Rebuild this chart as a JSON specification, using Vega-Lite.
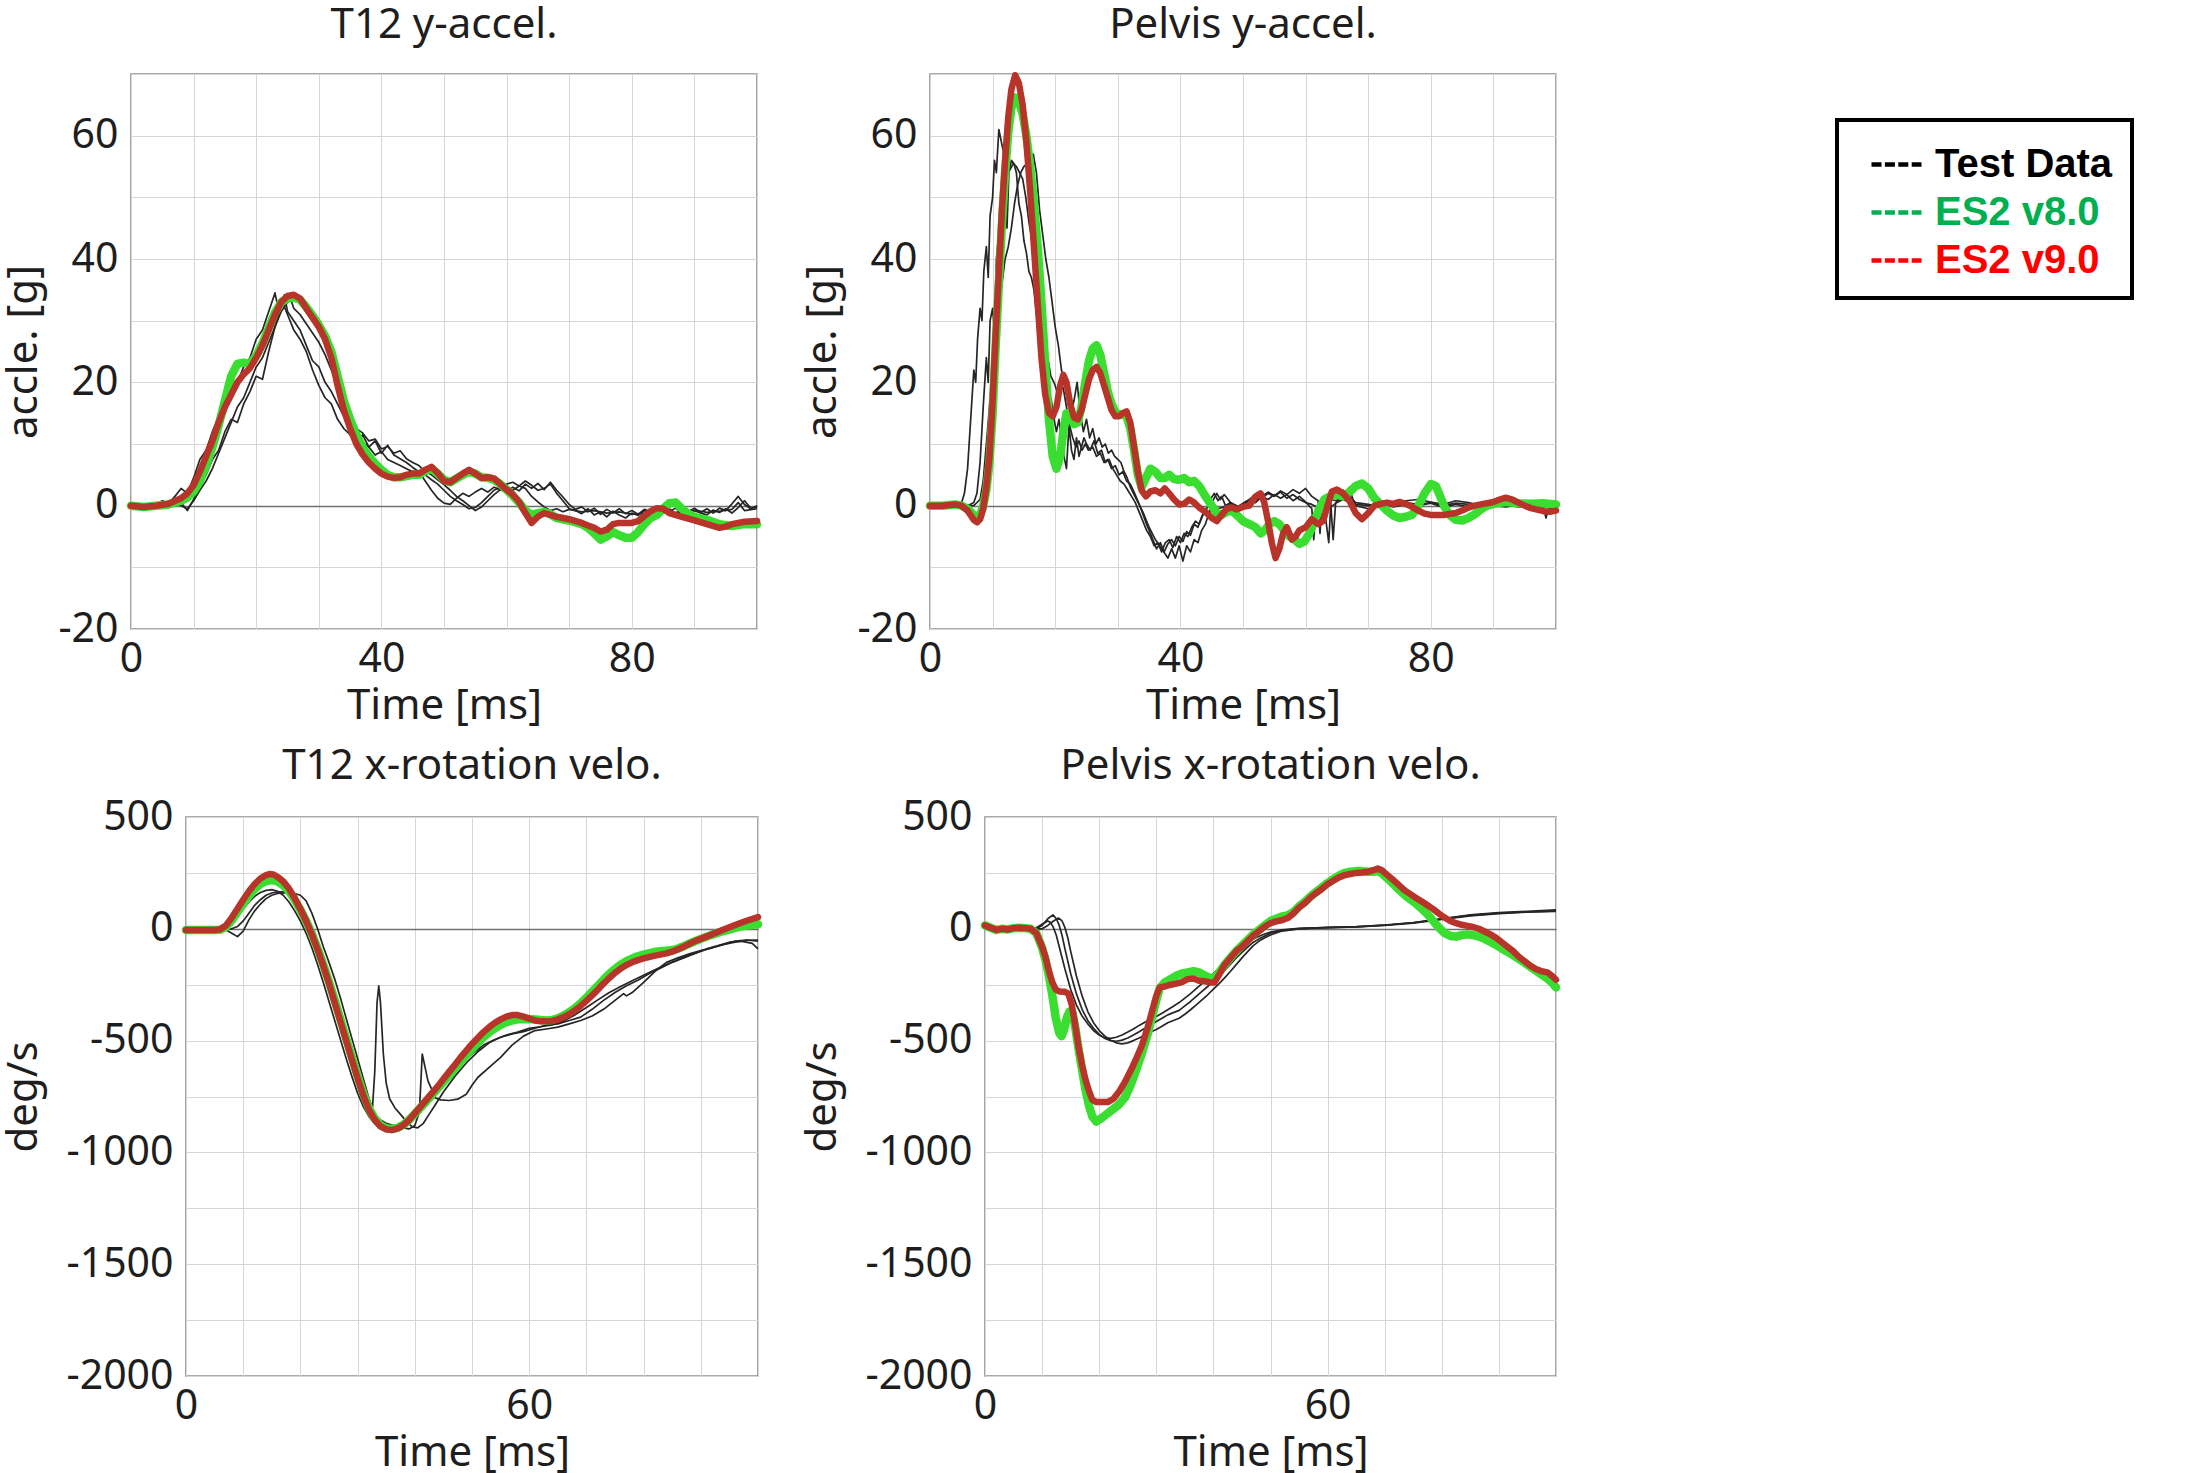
{
"$schema":"https://vega.github.io/schema/vega-lite/v6.json",
"background":"white",
"padding":{"left":1,"top":3,"right":0,"bottom":0},
"config":{
 "font":"Noto Sans",
 "view":{"stroke":"#8f8f8f","strokeWidth":1.6},
 "axis":{"labelFontSize":41,"titleFontSize":42,"labelColor":"#1e1e1e","titleColor":"#1e1e1e","titleFontWeight":"normal","ticks":false,"domain":false,"grid":true,"gridWidth":1,"labelFont":"Noto Sans","titleFont":"Noto Sans","labelOverlap":false,"labelFlush":false,"labelBound":false},
 "axisX":{"labelPadding":10,"titlePadding":6},
 "axisY":{"labelPadding":13},
 "title":{"fontSize":42,"fontWeight":"normal","color":"#1e1e1e","font":"Noto Sans","anchor":"middle","frame":"group"}
},
"datasets":{
"d1":[
{"s":"R","t":0,"v":0},{"s":"R","t":2,"v":-0.2},{"s":"R","t":4,"v":0},{"s":"R","t":6,"v":0.3},{"s":"R","t":8,"v":1.2},{"s":"R","t":9,"v":2},{"s":"R","t":10,"v":3.3},{"s":"R","t":11,"v":5.5},{"s":"R","t":12,"v":8},{"s":"R","t":13,"v":10.5},{"s":"R","t":14,"v":13.5},{"s":"R","t":15,"v":16},{"s":"R","t":16,"v":18},{"s":"R","t":17,"v":20},{"s":"R","t":18,"v":21.3},{"s":"R","t":19,"v":22.3},{"s":"R","t":20,"v":24},{"s":"R","t":21,"v":26},{"s":"R","t":22,"v":28.5},{"s":"R","t":23,"v":31},{"s":"R","t":24,"v":33},{"s":"R","t":25,"v":34},{"s":"R","t":26,"v":34.2},{"s":"R","t":27,"v":33.6},{"s":"R","t":28,"v":32},{"s":"R","t":29,"v":30.5},{"s":"R","t":30,"v":29},{"s":"R","t":31,"v":27},{"s":"R","t":32,"v":24},{"s":"R","t":33,"v":19.5},{"s":"R","t":34,"v":15.5},{"s":"R","t":35,"v":12.5},{"s":"R","t":36,"v":10},{"s":"R","t":37,"v":8.3},{"s":"R","t":38,"v":7},{"s":"R","t":39,"v":6},{"s":"R","t":40,"v":5.2},{"s":"R","t":41,"v":4.7},{"s":"R","t":42,"v":4.5},{"s":"R","t":43,"v":4.6},{"s":"R","t":44,"v":5},{"s":"R","t":45,"v":5.2},{"s":"R","t":46,"v":5.2},{"s":"R","t":47,"v":5.8},{"s":"R","t":48,"v":6.3},{"s":"R","t":49,"v":5.3},{"s":"R","t":50,"v":4},{"s":"R","t":51,"v":3.8},{"s":"R","t":52,"v":4.5},{"s":"R","t":53,"v":5.2},{"s":"R","t":54,"v":5.8},{"s":"R","t":55,"v":5.2},{"s":"R","t":56,"v":4.5},{"s":"R","t":57,"v":4.6},{"s":"R","t":58,"v":4.4},{"s":"R","t":59,"v":3.5},{"s":"R","t":60,"v":2.6},{"s":"R","t":61,"v":1.8},{"s":"R","t":62,"v":0.6},{"s":"R","t":63,"v":-1.2},{"s":"R","t":64,"v":-2.8},{"s":"R","t":65,"v":-1.8},{"s":"R","t":66,"v":-1.2},{"s":"R","t":67,"v":-1.5},{"s":"R","t":68,"v":-1.8},{"s":"R","t":70,"v":-2.2},{"s":"R","t":72,"v":-2.8},{"s":"R","t":73,"v":-3.2},{"s":"R","t":74,"v":-3.6},{"s":"R","t":75,"v":-4.2},{"s":"R","t":76,"v":-3.9},{"s":"R","t":77,"v":-3},{"s":"R","t":78,"v":-2.8},{"s":"R","t":80,"v":-2.8},{"s":"R","t":81,"v":-2.5},{"s":"R","t":82,"v":-1.7},{"s":"R","t":83,"v":-0.9},{"s":"R","t":84,"v":-0.4},{"s":"R","t":85,"v":-0.5},{"s":"R","t":86,"v":-1.2},{"s":"R","t":88,"v":-1.8},{"s":"R","t":90,"v":-2.4},{"s":"R","t":92,"v":-3},{"s":"R","t":94,"v":-3.6},{"s":"R","t":95,"v":-3.4},{"s":"R","t":96,"v":-3},{"s":"R","t":98,"v":-2.6},{"s":"R","t":100,"v":-2.5},
{"s":"G","t":0,"v":0},{"s":"G","t":2,"v":-0.2},{"s":"G","t":4,"v":0},{"s":"G","t":6,"v":0.2},{"s":"G","t":8,"v":0.8},{"s":"G","t":9,"v":1.3},{"s":"G","t":10,"v":2.3},{"s":"G","t":11,"v":4},{"s":"G","t":12,"v":6.5},{"s":"G","t":13,"v":9.5},{"s":"G","t":14,"v":13},{"s":"G","t":15,"v":17},{"s":"G","t":16,"v":21},{"s":"G","t":17,"v":23},{"s":"G","t":18,"v":23.2},{"s":"G","t":19,"v":23},{"s":"G","t":20,"v":24.3},{"s":"G","t":21,"v":26.3},{"s":"G","t":22,"v":28.8},{"s":"G","t":23,"v":31.3},{"s":"G","t":24,"v":33},{"s":"G","t":25,"v":33.6},{"s":"G","t":26,"v":33.8},{"s":"G","t":27,"v":33.4},{"s":"G","t":28,"v":32.2},{"s":"G","t":29,"v":30.8},{"s":"G","t":30,"v":29.3},{"s":"G","t":31,"v":27.5},{"s":"G","t":32,"v":25},{"s":"G","t":33,"v":21},{"s":"G","t":34,"v":17},{"s":"G","t":35,"v":14},{"s":"G","t":36,"v":11.5},{"s":"G","t":37,"v":9.5},{"s":"G","t":38,"v":8},{"s":"G","t":39,"v":6.8},{"s":"G","t":40,"v":5.8},{"s":"G","t":41,"v":5},{"s":"G","t":42,"v":4.6},{"s":"G","t":43,"v":4.6},{"s":"G","t":44,"v":4.8},{"s":"G","t":45,"v":5},{"s":"G","t":46,"v":5},{"s":"G","t":47,"v":5.6},{"s":"G","t":48,"v":6},{"s":"G","t":49,"v":5.2},{"s":"G","t":50,"v":4.2},{"s":"G","t":51,"v":3.8},{"s":"G","t":52,"v":4.4},{"s":"G","t":53,"v":5},{"s":"G","t":54,"v":5.5},{"s":"G","t":55,"v":5.2},{"s":"G","t":56,"v":4.6},{"s":"G","t":57,"v":4.5},{"s":"G","t":58,"v":4.2},{"s":"G","t":59,"v":3.5},{"s":"G","t":60,"v":2.6},{"s":"G","t":61,"v":1.6},{"s":"G","t":62,"v":0.5},{"s":"G","t":63,"v":-0.8},{"s":"G","t":64,"v":-1.5},{"s":"G","t":65,"v":-1.2},{"s":"G","t":66,"v":-1},{"s":"G","t":67,"v":-1.4},{"s":"G","t":68,"v":-2},{"s":"G","t":70,"v":-2.4},{"s":"G","t":72,"v":-3},{"s":"G","t":73,"v":-3.6},{"s":"G","t":74,"v":-4.5},{"s":"G","t":75,"v":-5.5},{"s":"G","t":76,"v":-5},{"s":"G","t":77,"v":-4.3},{"s":"G","t":78,"v":-4.8},{"s":"G","t":79,"v":-5.2},{"s":"G","t":80,"v":-5.2},{"s":"G","t":81,"v":-4.3},{"s":"G","t":82,"v":-3},{"s":"G","t":83,"v":-2},{"s":"G","t":84,"v":-1.5},{"s":"G","t":85,"v":-0.5},{"s":"G","t":86,"v":0.4},{"s":"G","t":87,"v":0.5},{"s":"G","t":88,"v":-0.5},{"s":"G","t":89,"v":-1.3},{"s":"G","t":90,"v":-1.8},{"s":"G","t":92,"v":-2.3},{"s":"G","t":94,"v":-3},{"s":"G","t":96,"v":-3.3},{"s":"G","t":98,"v":-3},{"s":"G","t":100,"v":-3},
{"s":"a","t":0,"v":0},{"s":"a","t":2,"v":0},{"s":"a","t":4,"v":0.2},{"s":"a","t":5,"v":0.8},{"s":"a","t":6,"v":0.3},{"s":"a","t":7,"v":1.5},{"s":"a","t":8,"v":2.8},{"s":"a","t":9,"v":2},{"s":"a","t":10,"v":4.5},{"s":"a","t":11,"v":7.5},{"s":"a","t":12,"v":9},{"s":"a","t":13,"v":12},{"s":"a","t":14,"v":14.5},{"s":"a","t":15,"v":16.5},{"s":"a","t":16,"v":17.5},{"s":"a","t":17,"v":20},{"s":"a","t":18,"v":22.5},{"s":"a","t":19,"v":24},{"s":"a","t":20,"v":27},{"s":"a","t":21,"v":28.5},{"s":"a","t":22,"v":31.5},{"s":"a","t":23,"v":34.5},{"s":"a","t":23.5,"v":32},{"s":"a","t":24,"v":33.5},{"s":"a","t":25,"v":31},{"s":"a","t":26,"v":28.5},{"s":"a","t":27,"v":27},{"s":"a","t":28,"v":25},{"s":"a","t":29,"v":22},{"s":"a","t":30,"v":19.5},{"s":"a","t":31,"v":17.5},{"s":"a","t":32,"v":16.5},{"s":"a","t":33,"v":14},{"s":"a","t":34,"v":12.5},{"s":"a","t":35,"v":11.5},{"s":"a","t":36,"v":10},{"s":"a","t":37,"v":11.5},{"s":"a","t":38,"v":9.5},{"s":"a","t":39,"v":10.5},{"s":"a","t":40,"v":8.5},{"s":"a","t":41,"v":9.8},{"s":"a","t":42,"v":8.2},{"s":"a","t":43,"v":7.6},{"s":"a","t":44,"v":7},{"s":"a","t":45,"v":6.2},{"s":"a","t":46,"v":5.5},{"s":"a","t":47,"v":4},{"s":"a","t":48,"v":2.5},{"s":"a","t":49,"v":1.2},{"s":"a","t":50,"v":0.4},{"s":"a","t":51,"v":0.2},{"s":"a","t":52,"v":1.2},{"s":"a","t":53,"v":2},{"s":"a","t":54,"v":1.5},{"s":"a","t":55,"v":2.2},{"s":"a","t":56,"v":2.8},{"s":"a","t":57,"v":2.2},{"s":"a","t":58,"v":3},{"s":"a","t":59,"v":2.6},{"s":"a","t":60,"v":3.2},{"s":"a","t":61,"v":2.5},{"s":"a","t":62,"v":3.2},{"s":"a","t":63,"v":2.8},{"s":"a","t":64,"v":1.5},{"s":"a","t":65,"v":0.6},{"s":"a","t":66,"v":-0.2},{"s":"a","t":67,"v":-0.8},{"s":"a","t":68,"v":-0.5},{"s":"a","t":69,"v":-1},{"s":"a","t":70,"v":-0.6},{"s":"a","t":72,"v":-1},{"s":"a","t":74,"v":-0.8},{"s":"a","t":76,"v":-1.2},{"s":"a","t":78,"v":-1},{"s":"a","t":80,"v":-1.4},{"s":"a","t":82,"v":-1.2},{"s":"a","t":84,"v":-0.8},{"s":"a","t":86,"v":-1.2},{"s":"a","t":88,"v":-1},{"s":"a","t":90,"v":-0.7},{"s":"a","t":92,"v":-1.1},{"s":"a","t":94,"v":-0.9},{"s":"a","t":96,"v":-0.6},{"s":"a","t":97,"v":0.5},{"s":"a","t":98,"v":-0.8},{"s":"a","t":100,"v":-0.5},
{"s":"b","t":0,"v":0},{"s":"b","t":4,"v":0},{"s":"b","t":6,"v":0.3},{"s":"b","t":8,"v":0.5},{"s":"b","t":9,"v":-0.8},{"s":"b","t":10,"v":1},{"s":"b","t":11,"v":3},{"s":"b","t":12,"v":5},{"s":"b","t":13,"v":7.5},{"s":"b","t":14,"v":9},{"s":"b","t":15,"v":12},{"s":"b","t":16,"v":14},{"s":"b","t":17,"v":13.5},{"s":"b","t":18,"v":16.5},{"s":"b","t":19,"v":18.5},{"s":"b","t":20,"v":21},{"s":"b","t":21,"v":20.5},{"s":"b","t":22,"v":25},{"s":"b","t":23,"v":29},{"s":"b","t":24,"v":32.5},{"s":"b","t":24.5,"v":34.2},{"s":"b","t":25,"v":31.5},{"s":"b","t":26,"v":30},{"s":"b","t":27,"v":28.5},{"s":"b","t":28,"v":26},{"s":"b","t":29,"v":23.5},{"s":"b","t":30,"v":22.5},{"s":"b","t":31,"v":20},{"s":"b","t":32,"v":18.5},{"s":"b","t":33,"v":16.5},{"s":"b","t":34,"v":14.5},{"s":"b","t":35,"v":12.8},{"s":"b","t":36,"v":11},{"s":"b","t":37,"v":10.3},{"s":"b","t":38,"v":9.5},{"s":"b","t":39,"v":8.2},{"s":"b","t":40,"v":8.8},{"s":"b","t":41,"v":7.5},{"s":"b","t":42,"v":7},{"s":"b","t":43,"v":6.5},{"s":"b","t":44,"v":6},{"s":"b","t":45,"v":5.5},{"s":"b","t":46,"v":5.2},{"s":"b","t":47,"v":5},{"s":"b","t":48,"v":4.2},{"s":"b","t":49,"v":3.5},{"s":"b","t":50,"v":2.5},{"s":"b","t":51,"v":1.5},{"s":"b","t":52,"v":0.8},{"s":"b","t":53,"v":0.2},{"s":"b","t":54,"v":-0.5},{"s":"b","t":55,"v":-0.3},{"s":"b","t":56,"v":0.5},{"s":"b","t":57,"v":1.5},{"s":"b","t":58,"v":2.5},{"s":"b","t":59,"v":3},{"s":"b","t":60,"v":3.5},{"s":"b","t":61,"v":3.8},{"s":"b","t":62,"v":3.2},{"s":"b","t":63,"v":4},{"s":"b","t":64,"v":3.3},{"s":"b","t":65,"v":2.5},{"s":"b","t":66,"v":2.8},{"s":"b","t":67,"v":3.5},{"s":"b","t":68,"v":2},{"s":"b","t":69,"v":0.8},{"s":"b","t":70,"v":-0.5},{"s":"b","t":71,"v":-0.8},{"s":"b","t":72,"v":-1.3},{"s":"b","t":73,"v":-0.5},{"s":"b","t":74,"v":-1.5},{"s":"b","t":75,"v":-1},{"s":"b","t":76,"v":-1.8},{"s":"b","t":77,"v":-0.9},{"s":"b","t":78,"v":-1.5},{"s":"b","t":79,"v":-2},{"s":"b","t":80,"v":-1.2},{"s":"b","t":81,"v":-1.6},{"s":"b","t":82,"v":-0.8},{"s":"b","t":83,"v":-1.3},{"s":"b","t":84,"v":-1.8},{"s":"b","t":85,"v":-0.6},{"s":"b","t":86,"v":-1},{"s":"b","t":87,"v":-0.4},{"s":"b","t":88,"v":-1.2},{"s":"b","t":89,"v":-1.6},{"s":"b","t":90,"v":-0.8},{"s":"b","t":91,"v":-1.2},{"s":"b","t":92,"v":-1.5},{"s":"b","t":93,"v":-0.7},{"s":"b","t":94,"v":-1.1},{"s":"b","t":95,"v":-0.5},{"s":"b","t":96,"v":-1.2},{"s":"b","t":97,"v":-0.3},{"s":"b","t":98,"v":0.8},{"s":"b","t":99,"v":-0.4},{"s":"b","t":100,"v":-0.3},
{"s":"c","t":0,"v":0},{"s":"c","t":5,"v":0},{"s":"c","t":7,"v":0.3},{"s":"c","t":8,"v":0},{"s":"c","t":9,"v":-0.5},{"s":"c","t":10,"v":0.8},{"s":"c","t":11,"v":2.5},{"s":"c","t":12,"v":4},{"s":"c","t":13,"v":6},{"s":"c","t":14,"v":8.5},{"s":"c","t":15,"v":11},{"s":"c","t":16,"v":13.5},{"s":"c","t":17,"v":16},{"s":"c","t":18,"v":17.5},{"s":"c","t":19,"v":20},{"s":"c","t":20,"v":22.5},{"s":"c","t":21,"v":24},{"s":"c","t":22,"v":26.5},{"s":"c","t":23,"v":29},{"s":"c","t":24,"v":31.5},{"s":"c","t":25,"v":33},{"s":"c","t":25.5,"v":33.5},{"s":"c","t":26,"v":32},{"s":"c","t":27,"v":31},{"s":"c","t":28,"v":29.5},{"s":"c","t":29,"v":28},{"s":"c","t":30,"v":26.5},{"s":"c","t":31,"v":24.5},{"s":"c","t":32,"v":22},{"s":"c","t":33,"v":19.5},{"s":"c","t":34,"v":16.5},{"s":"c","t":35,"v":14.5},{"s":"c","t":36,"v":12.5},{"s":"c","t":37,"v":11.8},{"s":"c","t":38,"v":10.5},{"s":"c","t":39,"v":10.8},{"s":"c","t":40,"v":9.2},{"s":"c","t":41,"v":9.6},{"s":"c","t":42,"v":8.5},{"s":"c","t":43,"v":8.9},{"s":"c","t":44,"v":7.6},{"s":"c","t":45,"v":7},{"s":"c","t":46,"v":6.5},{"s":"c","t":47,"v":5.5},{"s":"c","t":48,"v":5},{"s":"c","t":49,"v":4.2},{"s":"c","t":50,"v":3.4},{"s":"c","t":51,"v":2.5},{"s":"c","t":52,"v":1.5},{"s":"c","t":53,"v":0.8},{"s":"c","t":54,"v":0},{"s":"c","t":55,"v":-0.8},{"s":"c","t":56,"v":-0.2},{"s":"c","t":57,"v":0.8},{"s":"c","t":58,"v":1.8},{"s":"c","t":59,"v":2.6},{"s":"c","t":60,"v":2.2},{"s":"c","t":61,"v":3},{"s":"c","t":62,"v":2.4},{"s":"c","t":63,"v":3.5},{"s":"c","t":64,"v":2.8},{"s":"c","t":65,"v":3.6},{"s":"c","t":66,"v":2.6},{"s":"c","t":67,"v":3.8},{"s":"c","t":68,"v":2.5},{"s":"c","t":69,"v":1.4},{"s":"c","t":70,"v":0.2},{"s":"c","t":71,"v":-0.6},{"s":"c","t":72,"v":-0.2},{"s":"c","t":73,"v":-1},{"s":"c","t":74,"v":-0.4},{"s":"c","t":75,"v":-1.4},{"s":"c","t":76,"v":-0.6},{"s":"c","t":77,"v":-1.2},{"s":"c","t":78,"v":-0.5},{"s":"c","t":79,"v":-1.3},{"s":"c","t":80,"v":-0.8},{"s":"c","t":81,"v":-1.4},{"s":"c","t":82,"v":-0.6},{"s":"c","t":83,"v":-1},{"s":"c","t":84,"v":-0.3},{"s":"c","t":85,"v":-1.1},{"s":"c","t":86,"v":-0.5},{"s":"c","t":87,"v":-1.3},{"s":"c","t":88,"v":-0.6},{"s":"c","t":89,"v":-1},{"s":"c","t":90,"v":-0.4},{"s":"c","t":91,"v":-1.1},{"s":"c","t":92,"v":-0.5},{"s":"c","t":93,"v":-1.2},{"s":"c","t":94,"v":-0.4},{"s":"c","t":95,"v":-0.8},{"s":"c","t":96,"v":0.3},{"s":"c","t":97,"v":1.5},{"s":"c","t":98,"v":0.2},{"s":"c","t":99,"v":-0.5},{"s":"c","t":100,"v":0}
],
"d2":[
{"s":"R","t":0,"v":0},{"s":"R","t":2,"v":0},{"s":"R","t":4,"v":0.2},{"s":"R","t":5,"v":0},{"s":"R","t":6,"v":-0.8},{"s":"R","t":7,"v":-2.3},{"s":"R","t":7.5,"v":-2.7},{"s":"R","t":8,"v":-2.2},{"s":"R","t":8.5,"v":-0.5},{"s":"R","t":9,"v":3},{"s":"R","t":9.5,"v":8},{"s":"R","t":10,"v":17},{"s":"R","t":10.5,"v":28},{"s":"R","t":11,"v":38},{"s":"R","t":11.5,"v":48},{"s":"R","t":12,"v":56},{"s":"R","t":12.5,"v":63},{"s":"R","t":13,"v":67.5},{"s":"R","t":13.6,"v":69.8},{"s":"R","t":14.2,"v":68.5},{"s":"R","t":14.8,"v":65},{"s":"R","t":15.4,"v":59},{"s":"R","t":16,"v":51},{"s":"R","t":16.6,"v":42},{"s":"R","t":17.2,"v":33},{"s":"R","t":17.8,"v":24},{"s":"R","t":18.4,"v":18},{"s":"R","t":19,"v":15},{"s":"R","t":19.6,"v":14.5},{"s":"R","t":20.2,"v":16},{"s":"R","t":20.8,"v":19.5},{"s":"R","t":21.3,"v":21.2},{"s":"R","t":21.8,"v":20},{"s":"R","t":22.4,"v":16.5},{"s":"R","t":23,"v":14.3},{"s":"R","t":23.6,"v":14},{"s":"R","t":24.2,"v":15.5},{"s":"R","t":24.8,"v":18},{"s":"R","t":25.4,"v":20.5},{"s":"R","t":26,"v":22},{"s":"R","t":26.6,"v":22.5},{"s":"R","t":27.2,"v":21.5},{"s":"R","t":27.8,"v":19.5},{"s":"R","t":28.4,"v":17.5},{"s":"R","t":29,"v":15.5},{"s":"R","t":29.6,"v":14.5},{"s":"R","t":30.2,"v":14.5},{"s":"R","t":30.8,"v":15},{"s":"R","t":31.4,"v":15.3},{"s":"R","t":32,"v":13.5},{"s":"R","t":32.6,"v":9.5},{"s":"R","t":33.2,"v":5.5},{"s":"R","t":33.8,"v":2.5},{"s":"R","t":34.5,"v":1.5},{"s":"R","t":35.2,"v":2.3},{"s":"R","t":36,"v":2.5},{"s":"R","t":36.8,"v":2},{"s":"R","t":37.5,"v":2.8},{"s":"R","t":38.2,"v":2},{"s":"R","t":39,"v":1},{"s":"R","t":39.8,"v":0.2},{"s":"R","t":40.6,"v":0.3},{"s":"R","t":41.4,"v":1},{"s":"R","t":42.2,"v":0.5},{"s":"R","t":43,"v":-0.3},{"s":"R","t":44,"v":-1},{"s":"R","t":45,"v":-2},{"s":"R","t":45.8,"v":-2.5},{"s":"R","t":46.6,"v":-1.5},{"s":"R","t":47.4,"v":-0.5},{"s":"R","t":48.2,"v":-0.3},{"s":"R","t":49,"v":-0.6},{"s":"R","t":50,"v":-0.2},{"s":"R","t":51,"v":0},{"s":"R","t":52,"v":1.5},{"s":"R","t":52.8,"v":2},{"s":"R","t":53.4,"v":0.5},{"s":"R","t":54,"v":-2.5},{"s":"R","t":54.6,"v":-6},{"s":"R","t":55.2,"v":-8.5},{"s":"R","t":55.8,"v":-7},{"s":"R","t":56.4,"v":-4.5},{"s":"R","t":57,"v":-3.5},{"s":"R","t":57.8,"v":-5.5},{"s":"R","t":58.4,"v":-5},{"s":"R","t":59,"v":-4},{"s":"R","t":60,"v":-3.5},{"s":"R","t":61,"v":-2.2},{"s":"R","t":62,"v":-3},{"s":"R","t":62.8,"v":-2.5},{"s":"R","t":63.5,"v":0},{"s":"R","t":64.2,"v":2.3},{"s":"R","t":65,"v":2.6},{"s":"R","t":66,"v":2},{"s":"R","t":67,"v":0.8},{"s":"R","t":68,"v":-1.2},{"s":"R","t":69,"v":-2.2},{"s":"R","t":70,"v":-1.2},{"s":"R","t":71,"v":0},{"s":"R","t":72,"v":0.3},{"s":"R","t":73,"v":0.5},{"s":"R","t":74,"v":0.3},{"s":"R","t":75,"v":0.6},{"s":"R","t":76,"v":0.3},{"s":"R","t":77,"v":-0.2},{"s":"R","t":78,"v":-0.8},{"s":"R","t":79,"v":-1.3},{"s":"R","t":80,"v":-1.5},{"s":"R","t":82,"v":-1.5},{"s":"R","t":84,"v":-1.2},{"s":"R","t":85,"v":-0.8},{"s":"R","t":86,"v":-0.3},{"s":"R","t":87,"v":0},{"s":"R","t":88,"v":0.2},{"s":"R","t":90,"v":0.6},{"s":"R","t":91,"v":1},{"s":"R","t":92,"v":1.3},{"s":"R","t":93,"v":1},{"s":"R","t":94,"v":0.5},{"s":"R","t":95,"v":0},{"s":"R","t":96,"v":-0.4},{"s":"R","t":98,"v":-0.9},{"s":"R","t":99,"v":-1},{"s":"R","t":100,"v":-0.8},
{"s":"G","t":0,"v":0},{"s":"G","t":2,"v":0},{"s":"G","t":4,"v":0.2},{"s":"G","t":5,"v":0},{"s":"G","t":6,"v":-0.5},{"s":"G","t":7,"v":-1.5},{"s":"G","t":7.5,"v":-2},{"s":"G","t":8,"v":-1.5},{"s":"G","t":8.5,"v":0},{"s":"G","t":9,"v":2.5},{"s":"G","t":9.5,"v":7},{"s":"G","t":10,"v":15},{"s":"G","t":10.5,"v":26},{"s":"G","t":11,"v":36},{"s":"G","t":11.5,"v":46},{"s":"G","t":12,"v":54},{"s":"G","t":12.5,"v":60.5},{"s":"G","t":13,"v":64.5},{"s":"G","t":13.6,"v":66.2},{"s":"G","t":14.2,"v":65.5},{"s":"G","t":14.8,"v":63.5},{"s":"G","t":15.4,"v":60},{"s":"G","t":16,"v":55},{"s":"G","t":16.6,"v":49},{"s":"G","t":17.2,"v":42},{"s":"G","t":17.8,"v":33},{"s":"G","t":18.4,"v":23},{"s":"G","t":19,"v":14},{"s":"G","t":19.6,"v":8},{"s":"G","t":20.2,"v":6},{"s":"G","t":20.8,"v":8},{"s":"G","t":21.3,"v":12},{"s":"G","t":21.8,"v":15},{"s":"G","t":22.4,"v":14.5},{"s":"G","t":23,"v":13.2},{"s":"G","t":23.6,"v":13.5},{"s":"G","t":24.2,"v":16},{"s":"G","t":24.8,"v":20},{"s":"G","t":25.4,"v":23.5},{"s":"G","t":26,"v":25.5},{"s":"G","t":26.6,"v":26},{"s":"G","t":27.2,"v":24.5},{"s":"G","t":27.8,"v":21.5},{"s":"G","t":28.4,"v":18.5},{"s":"G","t":29,"v":16.5},{"s":"G","t":29.6,"v":15.2},{"s":"G","t":30.2,"v":14.8},{"s":"G","t":30.8,"v":14.8},{"s":"G","t":31.4,"v":14.5},{"s":"G","t":32,"v":12.5},{"s":"G","t":32.6,"v":9},{"s":"G","t":33.2,"v":5},{"s":"G","t":33.8,"v":3},{"s":"G","t":34.5,"v":4.5},{"s":"G","t":35.2,"v":6},{"s":"G","t":36,"v":5.5},{"s":"G","t":36.8,"v":4.5},{"s":"G","t":37.5,"v":4.5},{"s":"G","t":38.2,"v":5},{"s":"G","t":39,"v":4.3},{"s":"G","t":39.8,"v":4.2},{"s":"G","t":40.6,"v":4.5},{"s":"G","t":41.4,"v":3.8},{"s":"G","t":42.2,"v":4},{"s":"G","t":43,"v":3.2},{"s":"G","t":44,"v":1.5},{"s":"G","t":45,"v":0},{"s":"G","t":45.8,"v":-1.2},{"s":"G","t":46.6,"v":-1.5},{"s":"G","t":47.4,"v":-1},{"s":"G","t":48.2,"v":-0.8},{"s":"G","t":49,"v":-1.5},{"s":"G","t":50,"v":-2.5},{"s":"G","t":51,"v":-3},{"s":"G","t":52,"v":-3.5},{"s":"G","t":52.8,"v":-4.5},{"s":"G","t":53.5,"v":-4},{"s":"G","t":54.2,"v":-3},{"s":"G","t":55,"v":-2.5},{"s":"G","t":55.8,"v":-3},{"s":"G","t":56.6,"v":-4},{"s":"G","t":57.4,"v":-5},{"s":"G","t":58.2,"v":-5.5},{"s":"G","t":59,"v":-6.2},{"s":"G","t":59.8,"v":-5.8},{"s":"G","t":60.6,"v":-4.5},{"s":"G","t":61.4,"v":-2.5},{"s":"G","t":62.2,"v":-0.5},{"s":"G","t":63,"v":1},{"s":"G","t":64,"v":1.6},{"s":"G","t":65,"v":1.8},{"s":"G","t":66,"v":1.5},{"s":"G","t":67,"v":2.2},{"s":"G","t":68,"v":3.2},{"s":"G","t":69,"v":3.6},{"s":"G","t":70,"v":2.8},{"s":"G","t":71,"v":1.2},{"s":"G","t":72,"v":0.2},{"s":"G","t":73,"v":-0.8},{"s":"G","t":74,"v":-1.6},{"s":"G","t":75,"v":-2},{"s":"G","t":76,"v":-1.8},{"s":"G","t":77,"v":-1.5},{"s":"G","t":78,"v":0},{"s":"G","t":79,"v":2},{"s":"G","t":80,"v":3.5},{"s":"G","t":80.8,"v":3.2},{"s":"G","t":81.5,"v":1.5},{"s":"G","t":82.2,"v":-0.2},{"s":"G","t":83,"v":-1.5},{"s":"G","t":84,"v":-2.3},{"s":"G","t":85,"v":-2.4},{"s":"G","t":86,"v":-2},{"s":"G","t":87,"v":-1.4},{"s":"G","t":88,"v":-0.6},{"s":"G","t":89,"v":0},{"s":"G","t":90,"v":0.3},{"s":"G","t":92,"v":0.6},{"s":"G","t":94,"v":0.4},{"s":"G","t":96,"v":0.3},{"s":"G","t":98,"v":0.4},{"s":"G","t":100,"v":0.2},
{"s":"a","t":0,"v":0},{"s":"a","t":3,"v":0},{"s":"a","t":5,"v":0.3},{"s":"a","t":5.5,"v":2},{"s":"a","t":6,"v":6},{"s":"a","t":6.5,"v":14},{"s":"a","t":7,"v":22},{"s":"a","t":7.3,"v":20},{"s":"a","t":7.6,"v":27},{"s":"a","t":8,"v":32},{"s":"a","t":8.3,"v":30},{"s":"a","t":8.6,"v":38},{"s":"a","t":9,"v":42},{"s":"a","t":9.3,"v":37},{"s":"a","t":9.6,"v":47},{"s":"a","t":10,"v":50},{"s":"a","t":10.3,"v":56},{"s":"a","t":10.6,"v":54},{"s":"a","t":11,"v":61},{"s":"a","t":11.4,"v":59},{"s":"a","t":11.8,"v":57},{"s":"a","t":12.3,"v":55},{"s":"a","t":12.8,"v":54.5},{"s":"a","t":13.3,"v":55.5},{"s":"a","t":13.8,"v":55},{"s":"a","t":14.3,"v":54},{"s":"a","t":14.8,"v":53},{"s":"a","t":15.3,"v":50},{"s":"a","t":15.8,"v":46},{"s":"a","t":16.3,"v":43},{"s":"a","t":16.8,"v":40},{"s":"a","t":17.3,"v":36},{"s":"a","t":17.8,"v":32},{"s":"a","t":18.3,"v":28},{"s":"a","t":18.8,"v":24},{"s":"a","t":19.3,"v":21},{"s":"a","t":19.8,"v":20},{"s":"a","t":20.3,"v":18.5},{"s":"a","t":20.8,"v":20},{"s":"a","t":21.3,"v":19},{"s":"a","t":21.8,"v":16},{"s":"a","t":22.3,"v":13},{"s":"a","t":22.8,"v":11},{"s":"a","t":23.3,"v":9.5},{"s":"a","t":23.8,"v":10.5},{"s":"a","t":24.3,"v":9},{"s":"a","t":24.8,"v":10},{"s":"a","t":25.3,"v":9},{"s":"a","t":26,"v":9.5},{"s":"a","t":26.6,"v":8},{"s":"a","t":27.2,"v":8.5},{"s":"a","t":27.8,"v":7},{"s":"a","t":28.4,"v":7.5},{"s":"a","t":29,"v":6},{"s":"a","t":29.6,"v":6.5},{"s":"a","t":30.2,"v":5},{"s":"a","t":30.8,"v":5.5},{"s":"a","t":31.4,"v":4},{"s":"a","t":32,"v":3.5},{"s":"a","t":32.6,"v":2.2},{"s":"a","t":33.2,"v":0.8},{"s":"a","t":33.8,"v":-0.8},{"s":"a","t":34.4,"v":-2.5},{"s":"a","t":35,"v":-4},{"s":"a","t":35.6,"v":-5.5},{"s":"a","t":36.2,"v":-7},{"s":"a","t":36.8,"v":-6},{"s":"a","t":37.4,"v":-7.5},{"s":"a","t":38,"v":-6.2},{"s":"a","t":38.6,"v":-5.5},{"s":"a","t":39.2,"v":-6.5},{"s":"a","t":39.8,"v":-5},{"s":"a","t":40.4,"v":-5.8},{"s":"a","t":41,"v":-4.2},{"s":"a","t":41.6,"v":-4.8},{"s":"a","t":42.2,"v":-3},{"s":"a","t":42.8,"v":-3.5},{"s":"a","t":43.4,"v":-1.8},{"s":"a","t":44,"v":-0.5},{"s":"a","t":44.6,"v":-1.5},{"s":"a","t":45.2,"v":0.5},{"s":"a","t":46,"v":-0.5},{"s":"a","t":47,"v":-0.2},{"s":"a","t":48,"v":0.3},{"s":"a","t":49,"v":-0.2},{"s":"a","t":50,"v":0.2},{"s":"a","t":51,"v":0.8},{"s":"a","t":52,"v":0.5},{"s":"a","t":53,"v":1.5},{"s":"a","t":54,"v":1},{"s":"a","t":55,"v":1.8},{"s":"a","t":56,"v":1.2},{"s":"a","t":57,"v":1.8},{"s":"a","t":58,"v":0.8},{"s":"a","t":59,"v":1.5},{"s":"a","t":60,"v":0.6},{"s":"a","t":61,"v":-0.5},{"s":"a","t":61.3,"v":-5.5},{"s":"a","t":61.6,"v":-0.5},{"s":"a","t":62.5,"v":0.3},{"s":"a","t":63,"v":-0.5},{"s":"a","t":63.7,"v":-6},{"s":"a","t":64,"v":-0.2},{"s":"a","t":65,"v":0.5},{"s":"a","t":66,"v":1},{"s":"a","t":67,"v":0.5},{"s":"a","t":68,"v":0.2},{"s":"a","t":70,"v":0},{"s":"a","t":72,"v":0.4},{"s":"a","t":74,"v":-0.2},{"s":"a","t":76,"v":0.3},{"s":"a","t":78,"v":0},{"s":"a","t":80,"v":0.4},{"s":"a","t":82,"v":-0.3},{"s":"a","t":84,"v":0.2},{"s":"a","t":86,"v":-0.2},{"s":"a","t":88,"v":0.3},{"s":"a","t":90,"v":0},{"s":"a","t":92,"v":-0.2},{"s":"a","t":94,"v":0.2},{"s":"a","t":96,"v":0},{"s":"a","t":98,"v":-0.3},{"s":"a","t":98.4,"v":-2},{"s":"a","t":98.8,"v":-0.5},{"s":"a","t":100,"v":-0.3},
{"s":"b","t":0,"v":0},{"s":"b","t":6,"v":0},{"s":"b","t":7,"v":0.5},{"s":"b","t":7.5,"v":2},{"s":"b","t":8,"v":7},{"s":"b","t":8.5,"v":16},{"s":"b","t":9,"v":24},{"s":"b","t":9.3,"v":20},{"s":"b","t":9.6,"v":30},{"s":"b","t":10,"v":32},{"s":"b","t":10.3,"v":28},{"s":"b","t":10.6,"v":40},{"s":"b","t":11,"v":44},{"s":"b","t":11.3,"v":38},{"s":"b","t":11.6,"v":48},{"s":"b","t":12,"v":50},{"s":"b","t":12.3,"v":45},{"s":"b","t":12.6,"v":54},{"s":"b","t":13,"v":56},{"s":"b","t":13.4,"v":55.5},{"s":"b","t":13.8,"v":54},{"s":"b","t":14.2,"v":49},{"s":"b","t":14.6,"v":47},{"s":"b","t":15,"v":43},{"s":"b","t":15.4,"v":41},{"s":"b","t":15.8,"v":38},{"s":"b","t":16.2,"v":37},{"s":"b","t":16.6,"v":35},{"s":"b","t":17,"v":31},{"s":"b","t":17.4,"v":28},{"s":"b","t":17.8,"v":24},{"s":"b","t":18.2,"v":23},{"s":"b","t":18.6,"v":20},{"s":"b","t":19,"v":18.5},{"s":"b","t":19.4,"v":17},{"s":"b","t":19.8,"v":14},{"s":"b","t":20.2,"v":12},{"s":"b","t":20.6,"v":14},{"s":"b","t":21,"v":11},{"s":"b","t":21.4,"v":8},{"s":"b","t":21.8,"v":6},{"s":"b","t":22.2,"v":13},{"s":"b","t":22.6,"v":9},{"s":"b","t":23,"v":7.5},{"s":"b","t":23.4,"v":11},{"s":"b","t":23.8,"v":8},{"s":"b","t":24.2,"v":9.5},{"s":"b","t":24.6,"v":11},{"s":"b","t":25,"v":10},{"s":"b","t":25.6,"v":9},{"s":"b","t":26.2,"v":10.5},{"s":"b","t":26.8,"v":8.5},{"s":"b","t":27.4,"v":9},{"s":"b","t":28,"v":7},{"s":"b","t":28.6,"v":7.5},{"s":"b","t":29.2,"v":6},{"s":"b","t":29.8,"v":5},{"s":"b","t":30.4,"v":4},{"s":"b","t":31,"v":3.5},{"s":"b","t":31.6,"v":2.5},{"s":"b","t":32.2,"v":1.5},{"s":"b","t":32.8,"v":0.5},{"s":"b","t":33.4,"v":-1},{"s":"b","t":34,"v":-2.5},{"s":"b","t":34.6,"v":-4},{"s":"b","t":35.2,"v":-5},{"s":"b","t":35.8,"v":-6.5},{"s":"b","t":36.4,"v":-6},{"s":"b","t":37,"v":-7.5},{"s":"b","t":37.6,"v":-6},{"s":"b","t":38.2,"v":-5.5},{"s":"b","t":38.8,"v":-6.8},{"s":"b","t":39.4,"v":-5},{"s":"b","t":40,"v":-6},{"s":"b","t":40.6,"v":-4.5},{"s":"b","t":41.2,"v":-5},{"s":"b","t":41.8,"v":-3.5},{"s":"b","t":42.4,"v":-2.5},{"s":"b","t":43,"v":-3},{"s":"b","t":43.6,"v":-1.5},{"s":"b","t":44.2,"v":-0.5},{"s":"b","t":44.8,"v":1},{"s":"b","t":45.4,"v":2},{"s":"b","t":46,"v":0.8},{"s":"b","t":46.6,"v":1.5},{"s":"b","t":47.2,"v":0},{"s":"b","t":48,"v":0.5},{"s":"b","t":49,"v":-0.3},{"s":"b","t":50,"v":0.4},{"s":"b","t":51,"v":1},{"s":"b","t":52,"v":1.8},{"s":"b","t":53,"v":1.2},{"s":"b","t":54,"v":2},{"s":"b","t":55,"v":1.5},{"s":"b","t":56,"v":2.2},{"s":"b","t":57,"v":1.2},{"s":"b","t":58,"v":1.8},{"s":"b","t":59,"v":1},{"s":"b","t":60,"v":0.5},{"s":"b","t":61,"v":0.2},{"s":"b","t":62,"v":-0.3},{"s":"b","t":63,"v":0.5},{"s":"b","t":64,"v":1},{"s":"b","t":65,"v":0.8},{"s":"b","t":66,"v":2.5},{"s":"b","t":67,"v":1.5},{"s":"b","t":68,"v":0.5},{"s":"b","t":70,"v":0.2},{"s":"b","t":72,"v":-0.2},{"s":"b","t":74,"v":0.3},{"s":"b","t":76,"v":0.5},{"s":"b","t":78,"v":0.2},{"s":"b","t":80,"v":0.5},{"s":"b","t":82,"v":0},{"s":"b","t":84,"v":0.4},{"s":"b","t":86,"v":0.2},{"s":"b","t":88,"v":-0.2},{"s":"b","t":90,"v":0.2},{"s":"b","t":92,"v":0.5},{"s":"b","t":94,"v":0.3},{"s":"b","t":96,"v":0.1},{"s":"b","t":98,"v":-0.2},{"s":"b","t":100,"v":0},
{"s":"c","t":0,"v":0},{"s":"c","t":7,"v":0},{"s":"c","t":8,"v":1},{"s":"c","t":8.5,"v":4},{"s":"c","t":9,"v":10},{"s":"c","t":9.5,"v":16},{"s":"c","t":10,"v":22},{"s":"c","t":10.5,"v":28},{"s":"c","t":11,"v":32},{"s":"c","t":11.5,"v":36},{"s":"c","t":12,"v":40},{"s":"c","t":12.5,"v":42},{"s":"c","t":13,"v":45},{"s":"c","t":13.5,"v":49},{"s":"c","t":14,"v":52},{"s":"c","t":14.5,"v":54},{"s":"c","t":15,"v":55},{"s":"c","t":15.5,"v":55.5},{"s":"c","t":16,"v":56.5},{"s":"c","t":16.5,"v":57},{"s":"c","t":17,"v":54},{"s":"c","t":17.5,"v":48},{"s":"c","t":18,"v":44},{"s":"c","t":18.5,"v":40},{"s":"c","t":19,"v":37},{"s":"c","t":19.5,"v":33},{"s":"c","t":20,"v":29},{"s":"c","t":20.5,"v":26},{"s":"c","t":21,"v":22},{"s":"c","t":21.5,"v":20},{"s":"c","t":22,"v":17},{"s":"c","t":22.5,"v":15},{"s":"c","t":23,"v":17},{"s":"c","t":23.5,"v":20},{"s":"c","t":24,"v":15},{"s":"c","t":24.5,"v":12},{"s":"c","t":25,"v":14},{"s":"c","t":25.5,"v":11},{"s":"c","t":26,"v":12.5},{"s":"c","t":26.5,"v":10},{"s":"c","t":27,"v":11},{"s":"c","t":27.5,"v":9.5},{"s":"c","t":28,"v":10},{"s":"c","t":28.5,"v":8.5},{"s":"c","t":29,"v":9},{"s":"c","t":29.5,"v":8},{"s":"c","t":30,"v":7.5},{"s":"c","t":30.5,"v":7},{"s":"c","t":31,"v":5.5},{"s":"c","t":31.5,"v":4.5},{"s":"c","t":32,"v":3},{"s":"c","t":33,"v":1},{"s":"c","t":34,"v":-1},{"s":"c","t":35,"v":-3.5},{"s":"c","t":36,"v":-5.5},{"s":"c","t":37,"v":-7},{"s":"c","t":38,"v":-8.5},{"s":"c","t":38.6,"v":-7},{"s":"c","t":39.2,"v":-8.5},{"s":"c","t":39.8,"v":-6.5},{"s":"c","t":40.4,"v":-9},{"s":"c","t":41,"v":-6.5},{"s":"c","t":41.6,"v":-7.5},{"s":"c","t":42.2,"v":-5.5},{"s":"c","t":42.8,"v":-6},{"s":"c","t":43.4,"v":-4},{"s":"c","t":44,"v":-3},{"s":"c","t":44.6,"v":-1},{"s":"c","t":45.2,"v":0.8},{"s":"c","t":45.8,"v":2},{"s":"c","t":46.4,"v":1},{"s":"c","t":47,"v":1.8},{"s":"c","t":48,"v":0.5},{"s":"c","t":49,"v":0},{"s":"c","t":50,"v":-0.5},{"s":"c","t":51,"v":0.3},{"s":"c","t":52,"v":0.8},{"s":"c","t":53,"v":1.5},{"s":"c","t":54,"v":2.2},{"s":"c","t":55,"v":1.6},{"s":"c","t":56,"v":2.4},{"s":"c","t":57,"v":1.8},{"s":"c","t":58,"v":2.6},{"s":"c","t":59,"v":2},{"s":"c","t":60,"v":2.8},{"s":"c","t":61,"v":1.5},{"s":"c","t":62,"v":0.8},{"s":"c","t":62.3,"v":-4.5},{"s":"c","t":62.6,"v":0.5},{"s":"c","t":63.5,"v":1.2},{"s":"c","t":64,"v":0.6},{"s":"c","t":64.4,"v":-5.5},{"s":"c","t":64.8,"v":0.5},{"s":"c","t":66,"v":1.5},{"s":"c","t":67,"v":3},{"s":"c","t":67.5,"v":1.2},{"s":"c","t":68,"v":0},{"s":"c","t":70,"v":-0.5},{"s":"c","t":72,"v":0},{"s":"c","t":74,"v":0.5},{"s":"c","t":76,"v":0.8},{"s":"c","t":78,"v":1},{"s":"c","t":80,"v":0.6},{"s":"c","t":82,"v":0.2},{"s":"c","t":84,"v":0.8},{"s":"c","t":86,"v":0.5},{"s":"c","t":88,"v":0},{"s":"c","t":90,"v":0.4},{"s":"c","t":92,"v":0.2},{"s":"c","t":94,"v":-0.2},{"s":"c","t":96,"v":0},{"s":"c","t":98,"v":0.3},{"s":"c","t":100,"v":0}
],
"d3":[
{"s":"R","t":0,"v":-5},{"s":"R","t":5,"v":-5},{"s":"R","t":6,"v":-2},{"s":"R","t":7,"v":15},{"s":"R","t":8,"v":50},{"s":"R","t":9,"v":90},{"s":"R","t":10,"v":130},{"s":"R","t":11,"v":168},{"s":"R","t":12,"v":200},{"s":"R","t":13,"v":225},{"s":"R","t":14,"v":240},{"s":"R","t":14.6,"v":245},{"s":"R","t":15.3,"v":243},{"s":"R","t":16,"v":232},{"s":"R","t":17,"v":212},{"s":"R","t":18,"v":180},{"s":"R","t":19,"v":137},{"s":"R","t":20,"v":88},{"s":"R","t":21,"v":35},{"s":"R","t":22,"v":-25},{"s":"R","t":23,"v":-92},{"s":"R","t":24,"v":-165},{"s":"R","t":25,"v":-245},{"s":"R","t":26,"v":-330},{"s":"R","t":27,"v":-415},{"s":"R","t":28,"v":-500},{"s":"R","t":29,"v":-585},{"s":"R","t":30,"v":-668},{"s":"R","t":31,"v":-745},{"s":"R","t":32,"v":-810},{"s":"R","t":33,"v":-855},{"s":"R","t":34,"v":-884},{"s":"R","t":35,"v":-897},{"s":"R","t":36,"v":-900},{"s":"R","t":37,"v":-893},{"s":"R","t":38,"v":-878},{"s":"R","t":39,"v":-855},{"s":"R","t":40,"v":-825},{"s":"R","t":41,"v":-795},{"s":"R","t":42,"v":-765},{"s":"R","t":43,"v":-735},{"s":"R","t":44,"v":-705},{"s":"R","t":45,"v":-672},{"s":"R","t":46,"v":-640},{"s":"R","t":47,"v":-608},{"s":"R","t":48,"v":-575},{"s":"R","t":49,"v":-545},{"s":"R","t":50,"v":-515},{"s":"R","t":51,"v":-488},{"s":"R","t":52,"v":-462},{"s":"R","t":53,"v":-440},{"s":"R","t":54,"v":-420},{"s":"R","t":55,"v":-405},{"s":"R","t":56,"v":-393},{"s":"R","t":57,"v":-386},{"s":"R","t":58,"v":-386},{"s":"R","t":59,"v":-393},{"s":"R","t":60,"v":-402},{"s":"R","t":61,"v":-410},{"s":"R","t":62,"v":-414},{"s":"R","t":63,"v":-414},{"s":"R","t":64,"v":-412},{"s":"R","t":65,"v":-405},{"s":"R","t":66,"v":-395},{"s":"R","t":67,"v":-382},{"s":"R","t":68,"v":-365},{"s":"R","t":69,"v":-345},{"s":"R","t":70,"v":-322},{"s":"R","t":71,"v":-298},{"s":"R","t":72,"v":-272},{"s":"R","t":73,"v":-245},{"s":"R","t":74,"v":-220},{"s":"R","t":75,"v":-197},{"s":"R","t":76,"v":-178},{"s":"R","t":77,"v":-162},{"s":"R","t":78,"v":-150},{"s":"R","t":79,"v":-140},{"s":"R","t":80,"v":-132},{"s":"R","t":82,"v":-120},{"s":"R","t":84,"v":-110},{"s":"R","t":85,"v":-102},{"s":"R","t":86,"v":-92},{"s":"R","t":87,"v":-80},{"s":"R","t":88,"v":-67},{"s":"R","t":89,"v":-55},{"s":"R","t":90,"v":-45},{"s":"R","t":92,"v":-24},{"s":"R","t":94,"v":-3},{"s":"R","t":96,"v":17},{"s":"R","t":98,"v":36},{"s":"R","t":100,"v":52},
{"s":"G","t":0,"v":-5},{"s":"G","t":5,"v":-5},{"s":"G","t":6,"v":-4},{"s":"G","t":7,"v":8},{"s":"G","t":8,"v":38},{"s":"G","t":9,"v":75},{"s":"G","t":10,"v":112},{"s":"G","t":11,"v":148},{"s":"G","t":12,"v":178},{"s":"G","t":13,"v":200},{"s":"G","t":14,"v":213},{"s":"G","t":15,"v":218},{"s":"G","t":16,"v":212},{"s":"G","t":17,"v":195},{"s":"G","t":18,"v":168},{"s":"G","t":19,"v":130},{"s":"G","t":20,"v":85},{"s":"G","t":21,"v":35},{"s":"G","t":22,"v":-22},{"s":"G","t":23,"v":-88},{"s":"G","t":24,"v":-160},{"s":"G","t":25,"v":-238},{"s":"G","t":26,"v":-320},{"s":"G","t":27,"v":-405},{"s":"G","t":28,"v":-490},{"s":"G","t":29,"v":-575},{"s":"G","t":30,"v":-658},{"s":"G","t":31,"v":-737},{"s":"G","t":32,"v":-803},{"s":"G","t":33,"v":-850},{"s":"G","t":34,"v":-878},{"s":"G","t":35,"v":-892},{"s":"G","t":36,"v":-895},{"s":"G","t":37,"v":-890},{"s":"G","t":38,"v":-876},{"s":"G","t":39,"v":-855},{"s":"G","t":40,"v":-828},{"s":"G","t":41,"v":-800},{"s":"G","t":42,"v":-772},{"s":"G","t":43,"v":-743},{"s":"G","t":44,"v":-714},{"s":"G","t":45,"v":-685},{"s":"G","t":46,"v":-655},{"s":"G","t":47,"v":-625},{"s":"G","t":48,"v":-595},{"s":"G","t":49,"v":-565},{"s":"G","t":50,"v":-538},{"s":"G","t":51,"v":-510},{"s":"G","t":52,"v":-485},{"s":"G","t":53,"v":-463},{"s":"G","t":54,"v":-445},{"s":"G","t":55,"v":-430},{"s":"G","t":56,"v":-418},{"s":"G","t":57,"v":-410},{"s":"G","t":58,"v":-405},{"s":"G","t":60,"v":-403},{"s":"G","t":62,"v":-408},{"s":"G","t":63,"v":-410},{"s":"G","t":64,"v":-408},{"s":"G","t":65,"v":-400},{"s":"G","t":66,"v":-388},{"s":"G","t":67,"v":-373},{"s":"G","t":68,"v":-355},{"s":"G","t":69,"v":-333},{"s":"G","t":70,"v":-308},{"s":"G","t":71,"v":-282},{"s":"G","t":72,"v":-255},{"s":"G","t":73,"v":-228},{"s":"G","t":74,"v":-202},{"s":"G","t":75,"v":-180},{"s":"G","t":76,"v":-160},{"s":"G","t":77,"v":-145},{"s":"G","t":78,"v":-133},{"s":"G","t":79,"v":-123},{"s":"G","t":80,"v":-115},{"s":"G","t":82,"v":-103},{"s":"G","t":84,"v":-98},{"s":"G","t":85,"v":-95},{"s":"G","t":86,"v":-88},{"s":"G","t":87,"v":-78},{"s":"G","t":88,"v":-66},{"s":"G","t":89,"v":-55},{"s":"G","t":90,"v":-45},{"s":"G","t":92,"v":-26},{"s":"G","t":94,"v":-10},{"s":"G","t":96,"v":4},{"s":"G","t":98,"v":15},{"s":"G","t":100,"v":20},
{"s":"a","t":0,"v":0},{"s":"a","t":5,"v":0},{"s":"a","t":7,"v":-5},{"s":"a","t":8,"v":-20},{"s":"a","t":9,"v":-35},{"s":"a","t":10,"v":-10},{"s":"a","t":11,"v":40},{"s":"a","t":12,"v":80},{"s":"a","t":13,"v":110},{"s":"a","t":14,"v":135},{"s":"a","t":15,"v":150},{"s":"a","t":16,"v":158},{"s":"a","t":17,"v":160},{"s":"a","t":18,"v":160},{"s":"a","t":19,"v":158},{"s":"a","t":20,"v":150},{"s":"a","t":21,"v":125},{"s":"a","t":22,"v":70},{"s":"a","t":23,"v":0},{"s":"a","t":24,"v":-80},{"s":"a","t":25,"v":-150},{"s":"a","t":26,"v":-225},{"s":"a","t":27,"v":-310},{"s":"a","t":28,"v":-400},{"s":"a","t":29,"v":-490},{"s":"a","t":30,"v":-580},{"s":"a","t":31,"v":-670},{"s":"a","t":32,"v":-760},{"s":"a","t":32.6,"v":-800},{"s":"a","t":33,"v":-640},{"s":"a","t":33.4,"v":-330},{"s":"a","t":33.7,"v":-255},{"s":"a","t":34,"v":-330},{"s":"a","t":34.5,"v":-560},{"s":"a","t":35,"v":-690},{"s":"a","t":35.6,"v":-760},{"s":"a","t":36.5,"v":-800},{"s":"a","t":37.5,"v":-830},{"s":"a","t":38.5,"v":-860},{"s":"a","t":39.5,"v":-885},{"s":"a","t":40.5,"v":-890},{"s":"a","t":41.5,"v":-870},{"s":"a","t":42.5,"v":-830},{"s":"a","t":43.5,"v":-790},{"s":"a","t":45,"v":-730},{"s":"a","t":47,"v":-660},{"s":"a","t":49,"v":-600},{"s":"a","t":51,"v":-550},{"s":"a","t":53,"v":-510},{"s":"a","t":55,"v":-485},{"s":"a","t":57,"v":-470},{"s":"a","t":59,"v":-460},{"s":"a","t":61,"v":-445},{"s":"a","t":63,"v":-430},{"s":"a","t":65,"v":-425},{"s":"a","t":67,"v":-410},{"s":"a","t":69,"v":-395},{"s":"a","t":71,"v":-360},{"s":"a","t":73,"v":-320},{"s":"a","t":75,"v":-285},{"s":"a","t":77,"v":-255},{"s":"a","t":79,"v":-230},{"s":"a","t":81,"v":-200},{"s":"a","t":83,"v":-175},{"s":"a","t":85,"v":-150},{"s":"a","t":87,"v":-130},{"s":"a","t":89,"v":-110},{"s":"a","t":91,"v":-90},{"s":"a","t":93,"v":-75},{"s":"a","t":95,"v":-60},{"s":"a","t":97,"v":-55},{"s":"a","t":99,"v":-65},{"s":"a","t":100,"v":-90},
{"s":"b","t":0,"v":0},{"s":"b","t":6,"v":0},{"s":"b","t":7,"v":5},{"s":"b","t":8,"v":25},{"s":"b","t":9,"v":55},{"s":"b","t":10,"v":90},{"s":"b","t":11,"v":120},{"s":"b","t":12,"v":145},{"s":"b","t":13,"v":162},{"s":"b","t":14,"v":172},{"s":"b","t":15,"v":175},{"s":"b","t":16,"v":168},{"s":"b","t":17,"v":150},{"s":"b","t":18,"v":120},{"s":"b","t":19,"v":80},{"s":"b","t":20,"v":35},{"s":"b","t":21,"v":-20},{"s":"b","t":22,"v":-85},{"s":"b","t":23,"v":-160},{"s":"b","t":24,"v":-240},{"s":"b","t":25,"v":-325},{"s":"b","t":26,"v":-410},{"s":"b","t":27,"v":-495},{"s":"b","t":28,"v":-580},{"s":"b","t":29,"v":-660},{"s":"b","t":30,"v":-735},{"s":"b","t":31,"v":-795},{"s":"b","t":32,"v":-840},{"s":"b","t":33,"v":-870},{"s":"b","t":34,"v":-885},{"s":"b","t":35,"v":-890},{"s":"b","t":36,"v":-892},{"s":"b","t":37,"v":-888},{"s":"b","t":38,"v":-880},{"s":"b","t":39,"v":-860},{"s":"b","t":40,"v":-830},{"s":"b","t":41,"v":-800},{"s":"b","t":42,"v":-770},{"s":"b","t":43,"v":-740},{"s":"b","t":44,"v":-712},{"s":"b","t":45,"v":-685},{"s":"b","t":46,"v":-655},{"s":"b","t":47,"v":-625},{"s":"b","t":48,"v":-600},{"s":"b","t":50,"v":-560},{"s":"b","t":52,"v":-520},{"s":"b","t":54,"v":-495},{"s":"b","t":56,"v":-475},{"s":"b","t":58,"v":-462},{"s":"b","t":60,"v":-445},{"s":"b","t":62,"v":-438},{"s":"b","t":64,"v":-430},{"s":"b","t":66,"v":-412},{"s":"b","t":68,"v":-385},{"s":"b","t":70,"v":-352},{"s":"b","t":72,"v":-318},{"s":"b","t":74,"v":-285},{"s":"b","t":76,"v":-258},{"s":"b","t":78,"v":-232},{"s":"b","t":80,"v":-208},{"s":"b","t":82,"v":-183},{"s":"b","t":84,"v":-160},{"s":"b","t":86,"v":-138},{"s":"b","t":88,"v":-118},{"s":"b","t":90,"v":-100},{"s":"b","t":92,"v":-85},{"s":"b","t":94,"v":-70},{"s":"b","t":96,"v":-60},{"s":"b","t":98,"v":-52},{"s":"b","t":100,"v":-50},
{"s":"c","t":0,"v":0},{"s":"c","t":8,"v":0},{"s":"c","t":9,"v":10},{"s":"c","t":10,"v":35},{"s":"c","t":11,"v":70},{"s":"c","t":12,"v":105},{"s":"c","t":13,"v":130},{"s":"c","t":14,"v":150},{"s":"c","t":15,"v":160},{"s":"c","t":16,"v":165},{"s":"c","t":17,"v":165},{"s":"c","t":18,"v":155},{"s":"c","t":19,"v":130},{"s":"c","t":20,"v":90},{"s":"c","t":21,"v":40},{"s":"c","t":22,"v":-20},{"s":"c","t":23,"v":-90},{"s":"c","t":24,"v":-170},{"s":"c","t":25,"v":-255},{"s":"c","t":26,"v":-340},{"s":"c","t":27,"v":-425},{"s":"c","t":28,"v":-510},{"s":"c","t":29,"v":-590},{"s":"c","t":30,"v":-665},{"s":"c","t":31,"v":-735},{"s":"c","t":32,"v":-790},{"s":"c","t":33,"v":-830},{"s":"c","t":34,"v":-855},{"s":"c","t":35,"v":-870},{"s":"c","t":36,"v":-878},{"s":"c","t":37,"v":-883},{"s":"c","t":38,"v":-890},{"s":"c","t":39,"v":-895},{"s":"c","t":40,"v":-880},{"s":"c","t":40.8,"v":-820},{"s":"c","t":41.3,"v":-560},{"s":"c","t":41.8,"v":-620},{"s":"c","t":42.3,"v":-680},{"s":"c","t":43,"v":-720},{"s":"c","t":43.5,"v":-755},{"s":"c","t":44.5,"v":-765},{"s":"c","t":46,"v":-768},{"s":"c","t":47.5,"v":-762},{"s":"c","t":49,"v":-740},{"s":"c","t":50,"v":-700},{"s":"c","t":51,"v":-665},{"s":"c","t":53,"v":-620},{"s":"c","t":55,"v":-575},{"s":"c","t":57,"v":-520},{"s":"c","t":59,"v":-480},{"s":"c","t":61,"v":-455},{"s":"c","t":63,"v":-448},{"s":"c","t":65,"v":-440},{"s":"c","t":67,"v":-425},{"s":"c","t":69,"v":-410},{"s":"c","t":71,"v":-390},{"s":"c","t":73,"v":-360},{"s":"c","t":75,"v":-320},{"s":"c","t":76.5,"v":-290},{"s":"c","t":77,"v":-300},{"s":"c","t":78,"v":-285},{"s":"c","t":80,"v":-240},{"s":"c","t":82,"v":-190},{"s":"c","t":84,"v":-150},{"s":"c","t":86,"v":-130},{"s":"c","t":88,"v":-112},{"s":"c","t":90,"v":-97},{"s":"c","t":92,"v":-85},{"s":"c","t":94,"v":-70},{"s":"c","t":96,"v":-55},{"s":"c","t":98,"v":-50},{"s":"c","t":100,"v":-55}
],
"d4":[
{"s":"R","t":0,"v":15},{"s":"R","t":1,"v":5},{"s":"R","t":2,"v":-5},{"s":"R","t":3,"v":0},{"s":"R","t":4,"v":-3},{"s":"R","t":5,"v":3},{"s":"R","t":6,"v":5},{"s":"R","t":7,"v":3},{"s":"R","t":8,"v":0},{"s":"R","t":9,"v":-20},{"s":"R","t":10,"v":-80},{"s":"R","t":10.6,"v":-127},{"s":"R","t":11.2,"v":-190},{"s":"R","t":11.8,"v":-240},{"s":"R","t":12.4,"v":-272},{"s":"R","t":13,"v":-280},{"s":"R","t":14,"v":-282},{"s":"R","t":14.6,"v":-290},{"s":"R","t":15.2,"v":-340},{"s":"R","t":15.8,"v":-430},{"s":"R","t":16.4,"v":-530},{"s":"R","t":17,"v":-610},{"s":"R","t":17.6,"v":-675},{"s":"R","t":18.2,"v":-725},{"s":"R","t":18.8,"v":-765},{"s":"R","t":19.5,"v":-775},{"s":"R","t":20.5,"v":-775},{"s":"R","t":21.5,"v":-775},{"s":"R","t":22.5,"v":-760},{"s":"R","t":23.5,"v":-728},{"s":"R","t":24.5,"v":-685},{"s":"R","t":25.5,"v":-635},{"s":"R","t":26.5,"v":-580},{"s":"R","t":27.5,"v":-520},{"s":"R","t":28.5,"v":-440},{"s":"R","t":29.3,"v":-365},{"s":"R","t":30,"v":-300},{"s":"R","t":30.6,"v":-262},{"s":"R","t":31.5,"v":-258},{"s":"R","t":32.5,"v":-250},{"s":"R","t":33.5,"v":-245},{"s":"R","t":34.5,"v":-238},{"s":"R","t":35.5,"v":-225},{"s":"R","t":36.5,"v":-222},{"s":"R","t":37.5,"v":-232},{"s":"R","t":38.5,"v":-235},{"s":"R","t":39.5,"v":-240},{"s":"R","t":40.2,"v":-240},{"s":"R","t":41,"v":-205},{"s":"R","t":42,"v":-160},{"s":"R","t":43,"v":-130},{"s":"R","t":44,"v":-100},{"s":"R","t":45,"v":-80},{"s":"R","t":46,"v":-55},{"s":"R","t":47,"v":-30},{"s":"R","t":48,"v":-10},{"s":"R","t":49,"v":10},{"s":"R","t":50,"v":25},{"s":"R","t":51,"v":33},{"s":"R","t":52,"v":38},{"s":"R","t":53,"v":48},{"s":"R","t":54,"v":68},{"s":"R","t":55,"v":95},{"s":"R","t":56,"v":115},{"s":"R","t":57,"v":140},{"s":"R","t":58,"v":160},{"s":"R","t":59,"v":178},{"s":"R","t":60,"v":200},{"s":"R","t":61,"v":215},{"s":"R","t":62,"v":230},{"s":"R","t":63,"v":240},{"s":"R","t":64,"v":245},{"s":"R","t":65,"v":250},{"s":"R","t":66,"v":252},{"s":"R","t":67,"v":255},{"s":"R","t":68,"v":262},{"s":"R","t":68.8,"v":270},{"s":"R","t":69.5,"v":262},{"s":"R","t":70.5,"v":240},{"s":"R","t":71.5,"v":218},{"s":"R","t":72.5,"v":195},{"s":"R","t":73.5,"v":172},{"s":"R","t":74.5,"v":155},{"s":"R","t":75.5,"v":138},{"s":"R","t":76.5,"v":122},{"s":"R","t":77.5,"v":105},{"s":"R","t":78.5,"v":88},{"s":"R","t":79.5,"v":68},{"s":"R","t":80.5,"v":50},{"s":"R","t":81.5,"v":35},{"s":"R","t":82.5,"v":25},{"s":"R","t":83.5,"v":18},{"s":"R","t":84.5,"v":13},{"s":"R","t":85.5,"v":8},{"s":"R","t":86.5,"v":0},{"s":"R","t":87.5,"v":-12},{"s":"R","t":88.5,"v":-25},{"s":"R","t":89.5,"v":-40},{"s":"R","t":90.5,"v":-60},{"s":"R","t":91.5,"v":-80},{"s":"R","t":92.5,"v":-100},{"s":"R","t":93.5,"v":-125},{"s":"R","t":94.5,"v":-145},{"s":"R","t":95.5,"v":-165},{"s":"R","t":96.5,"v":-180},{"s":"R","t":97.5,"v":-190},{"s":"R","t":98.5,"v":-195},{"s":"R","t":99.3,"v":-210},{"s":"R","t":100,"v":-228},
{"s":"G","t":0,"v":15},{"s":"G","t":1,"v":5},{"s":"G","t":2,"v":-5},{"s":"G","t":3,"v":0},{"s":"G","t":4,"v":-3},{"s":"G","t":5,"v":3},{"s":"G","t":6,"v":5},{"s":"G","t":7,"v":3},{"s":"G","t":8,"v":0},{"s":"G","t":9,"v":-20},{"s":"G","t":10,"v":-85},{"s":"G","t":10.6,"v":-140},{"s":"G","t":11.2,"v":-210},{"s":"G","t":11.8,"v":-300},{"s":"G","t":12.4,"v":-400},{"s":"G","t":13,"v":-465},{"s":"G","t":13.4,"v":-480},{"s":"G","t":13.8,"v":-455},{"s":"G","t":14.3,"v":-400},{"s":"G","t":14.8,"v":-370},{"s":"G","t":15.3,"v":-375},{"s":"G","t":15.8,"v":-440},{"s":"G","t":16.4,"v":-540},{"s":"G","t":17,"v":-630},{"s":"G","t":17.6,"v":-720},{"s":"G","t":18.2,"v":-790},{"s":"G","t":18.8,"v":-840},{"s":"G","t":19.5,"v":-862},{"s":"G","t":20.5,"v":-845},{"s":"G","t":21.5,"v":-825},{"s":"G","t":22.5,"v":-805},{"s":"G","t":23.5,"v":-785},{"s":"G","t":24.5,"v":-755},{"s":"G","t":25.5,"v":-700},{"s":"G","t":26.5,"v":-630},{"s":"G","t":27.5,"v":-555},{"s":"G","t":28.5,"v":-470},{"s":"G","t":29.3,"v":-390},{"s":"G","t":30,"v":-320},{"s":"G","t":30.6,"v":-265},{"s":"G","t":31.5,"v":-240},{"s":"G","t":32.5,"v":-225},{"s":"G","t":33.5,"v":-210},{"s":"G","t":34.5,"v":-200},{"s":"G","t":35.5,"v":-195},{"s":"G","t":36.5,"v":-190},{"s":"G","t":37.5,"v":-195},{"s":"G","t":38.5,"v":-210},{"s":"G","t":39.5,"v":-220},{"s":"G","t":40.2,"v":-220},{"s":"G","t":41,"v":-195},{"s":"G","t":42,"v":-160},{"s":"G","t":43,"v":-130},{"s":"G","t":44,"v":-100},{"s":"G","t":45,"v":-75},{"s":"G","t":46,"v":-50},{"s":"G","t":47,"v":-25},{"s":"G","t":48,"v":-5},{"s":"G","t":49,"v":15},{"s":"G","t":50,"v":35},{"s":"G","t":51,"v":45},{"s":"G","t":52,"v":55},{"s":"G","t":53,"v":60},{"s":"G","t":54,"v":75},{"s":"G","t":55,"v":100},{"s":"G","t":56,"v":120},{"s":"G","t":57,"v":145},{"s":"G","t":58,"v":165},{"s":"G","t":59,"v":185},{"s":"G","t":60,"v":205},{"s":"G","t":61,"v":222},{"s":"G","t":62,"v":238},{"s":"G","t":63,"v":250},{"s":"G","t":64,"v":255},{"s":"G","t":65,"v":258},{"s":"G","t":66,"v":258},{"s":"G","t":67,"v":255},{"s":"G","t":68,"v":255},{"s":"G","t":68.8,"v":258},{"s":"G","t":69.5,"v":248},{"s":"G","t":70.5,"v":225},{"s":"G","t":71.5,"v":200},{"s":"G","t":72.5,"v":175},{"s":"G","t":73.5,"v":152},{"s":"G","t":74.5,"v":132},{"s":"G","t":75.5,"v":112},{"s":"G","t":76.5,"v":90},{"s":"G","t":77.5,"v":65},{"s":"G","t":78.5,"v":35},{"s":"G","t":79.5,"v":5},{"s":"G","t":80.5,"v":-20},{"s":"G","t":81.5,"v":-32},{"s":"G","t":82.5,"v":-35},{"s":"G","t":83.5,"v":-28},{"s":"G","t":84.5,"v":-25},{"s":"G","t":85.5,"v":-28},{"s":"G","t":86.5,"v":-35},{"s":"G","t":87.5,"v":-45},{"s":"G","t":88.5,"v":-58},{"s":"G","t":89.5,"v":-72},{"s":"G","t":90.5,"v":-88},{"s":"G","t":91.5,"v":-103},{"s":"G","t":92.5,"v":-118},{"s":"G","t":93.5,"v":-135},{"s":"G","t":94.5,"v":-152},{"s":"G","t":95.5,"v":-170},{"s":"G","t":96.5,"v":-188},{"s":"G","t":97.5,"v":-205},{"s":"G","t":98.5,"v":-222},{"s":"G","t":99.3,"v":-240},{"s":"G","t":100,"v":-262},
{"s":"a","t":0,"v":0},{"s":"a","t":8,"v":0},{"s":"a","t":9,"v":5},{"s":"a","t":10,"v":20},{"s":"a","t":11,"v":35},{"s":"a","t":11.5,"v":28},{"s":"a","t":12,"v":5},{"s":"a","t":12.5,"v":-30},{"s":"a","t":13,"v":-80},{"s":"a","t":14,"v":-180},{"s":"a","t":15,"v":-270},{"s":"a","t":16,"v":-340},{"s":"a","t":17,"v":-390},{"s":"a","t":18,"v":-425},{"s":"a","t":19,"v":-455},{"s":"a","t":20,"v":-475},{"s":"a","t":21,"v":-488},{"s":"a","t":22,"v":-490},{"s":"a","t":23,"v":-485},{"s":"a","t":24,"v":-475},{"s":"a","t":25,"v":-462},{"s":"a","t":26,"v":-448},{"s":"a","t":27,"v":-432},{"s":"a","t":28,"v":-418},{"s":"a","t":29,"v":-405},{"s":"a","t":30,"v":-392},{"s":"a","t":31,"v":-378},{"s":"a","t":32,"v":-362},{"s":"a","t":33,"v":-346},{"s":"a","t":34,"v":-330},{"s":"a","t":35,"v":-310},{"s":"a","t":36,"v":-290},{"s":"a","t":37,"v":-268},{"s":"a","t":38,"v":-245},{"s":"a","t":39,"v":-222},{"s":"a","t":40,"v":-200},{"s":"a","t":41,"v":-175},{"s":"a","t":42,"v":-150},{"s":"a","t":43,"v":-125},{"s":"a","t":44,"v":-100},{"s":"a","t":45,"v":-80},{"s":"a","t":46,"v":-62},{"s":"a","t":47,"v":-45},{"s":"a","t":48,"v":-33},{"s":"a","t":49,"v":-23},{"s":"a","t":50,"v":-15},{"s":"a","t":52,"v":-5},{"s":"a","t":55,"v":2},{"s":"a","t":60,"v":5},{"s":"a","t":65,"v":8},{"s":"a","t":70,"v":15},{"s":"a","t":75,"v":25},{"s":"a","t":80,"v":42},{"s":"a","t":85,"v":58},{"s":"a","t":90,"v":68},{"s":"a","t":95,"v":75},{"s":"a","t":100,"v":80},
{"s":"b","t":0,"v":0},{"s":"b","t":9,"v":0},{"s":"b","t":10,"v":15},{"s":"b","t":11,"v":45},{"s":"b","t":11.9,"v":62},{"s":"b","t":12.5,"v":45},{"s":"b","t":13,"v":15},{"s":"b","t":13.5,"v":-30},{"s":"b","t":14,"v":-90},{"s":"b","t":15,"v":-200},{"s":"b","t":16,"v":-290},{"s":"b","t":17,"v":-360},{"s":"b","t":18,"v":-410},{"s":"b","t":19,"v":-445},{"s":"b","t":20,"v":-472},{"s":"b","t":21,"v":-490},{"s":"b","t":22,"v":-500},{"s":"b","t":23,"v":-503},{"s":"b","t":24,"v":-498},{"s":"b","t":25,"v":-488},{"s":"b","t":26,"v":-475},{"s":"b","t":27,"v":-460},{"s":"b","t":28,"v":-445},{"s":"b","t":29,"v":-430},{"s":"b","t":30,"v":-415},{"s":"b","t":31,"v":-400},{"s":"b","t":32,"v":-385},{"s":"b","t":33,"v":-375},{"s":"b","t":34,"v":-365},{"s":"b","t":35,"v":-345},{"s":"b","t":36,"v":-325},{"s":"b","t":37,"v":-302},{"s":"b","t":38,"v":-280},{"s":"b","t":39,"v":-258},{"s":"b","t":40,"v":-235},{"s":"b","t":41,"v":-210},{"s":"b","t":42,"v":-185},{"s":"b","t":43,"v":-158},{"s":"b","t":44,"v":-130},{"s":"b","t":45,"v":-105},{"s":"b","t":46,"v":-82},{"s":"b","t":47,"v":-60},{"s":"b","t":48,"v":-45},{"s":"b","t":49,"v":-32},{"s":"b","t":50,"v":-20},{"s":"b","t":52,"v":-7},{"s":"b","t":55,"v":1},{"s":"b","t":60,"v":6},{"s":"b","t":65,"v":10},{"s":"b","t":70,"v":17},{"s":"b","t":75,"v":28},{"s":"b","t":80,"v":45},{"s":"b","t":85,"v":62},{"s":"b","t":90,"v":72},{"s":"b","t":95,"v":78},{"s":"b","t":100,"v":85},
{"s":"c","t":0,"v":0},{"s":"c","t":10,"v":0},{"s":"c","t":11,"v":15},{"s":"c","t":12,"v":35},{"s":"c","t":12.9,"v":48},{"s":"c","t":13.5,"v":35},{"s":"c","t":14,"v":5},{"s":"c","t":14.5,"v":-40},{"s":"c","t":15,"v":-100},{"s":"c","t":16,"v":-210},{"s":"c","t":17,"v":-300},{"s":"c","t":18,"v":-370},{"s":"c","t":19,"v":-420},{"s":"c","t":20,"v":-455},{"s":"c","t":21,"v":-480},{"s":"c","t":22,"v":-498},{"s":"c","t":23,"v":-510},{"s":"c","t":24,"v":-515},{"s":"c","t":25,"v":-510},{"s":"c","t":26,"v":-500},{"s":"c","t":27,"v":-488},{"s":"c","t":28,"v":-475},{"s":"c","t":29,"v":-462},{"s":"c","t":30,"v":-450},{"s":"c","t":31,"v":-436},{"s":"c","t":32,"v":-420},{"s":"c","t":33,"v":-410},{"s":"c","t":34,"v":-400},{"s":"c","t":35,"v":-382},{"s":"c","t":36,"v":-362},{"s":"c","t":37,"v":-340},{"s":"c","t":38,"v":-318},{"s":"c","t":39,"v":-295},{"s":"c","t":40,"v":-270},{"s":"c","t":41,"v":-245},{"s":"c","t":42,"v":-218},{"s":"c","t":43,"v":-190},{"s":"c","t":44,"v":-160},{"s":"c","t":45,"v":-130},{"s":"c","t":46,"v":-102},{"s":"c","t":47,"v":-75},{"s":"c","t":48,"v":-55},{"s":"c","t":49,"v":-40},{"s":"c","t":50,"v":-28},{"s":"c","t":52,"v":-10},{"s":"c","t":55,"v":0},{"s":"c","t":60,"v":5},{"s":"c","t":65,"v":9},{"s":"c","t":70,"v":16},{"s":"c","t":75,"v":27},{"s":"c","t":80,"v":44},{"s":"c","t":85,"v":60},{"s":"c","t":90,"v":70},{"s":"c","t":95,"v":76},{"s":"c","t":100,"v":78}
]
},
"spacing":36,
"hconcat":[
{"columns":2,"align":{"row":"all","column":"none"},"spacing":{"row":13,"column":0},
 "concat":[
 {"width":1,"height":1,"data":{"values":[{}]},"mark":{"type":"point","opacity":0,"size":1},"view":{"stroke":null}},
 {"title":{"text":"T12 y-accel.","offset":6},"width":626,"height":555,"data":{"name":"d1"},
  "layer":[
   {"transform":[{"filter":{"field":"s","oneOf":["a","b","c"]}}],"mark":{"type":"line","strokeWidth":1.7,"strokeJoin":"round","color":"#262626"},
    "encoding":{
     "x":{"field":"t","type":"quantitative","scale":{"domain":[0,100],"nice":false,"zero":false},"axis":{"title":"Time [ms]","grid":true,"values":[0,5,10,15,20,25,30,35,40,45,50,55,60,65,70,75,80,85,90,95,100],"labelExpr":"datum.value % 40 === 0 && datum.value < 100 ? '' + datum.value : ''","gridColor":{"condition":{"test":"datum.value % 10 === 0","value":"#d6d6d6"},"value":"#ececec"}}},
     "y":{"field":"v","type":"quantitative","scale":{"domain":[-20,70],"nice":false,"zero":false},"axis":{"title":"accle. [g]","grid":true,"titlePadding":12,"values":[-20,-15,-10,-5,0,5,10,15,20,25,30,35,40,45,50,55,60,65,70],"labelExpr":"datum.value % 20 === 0 && datum.value < 70 ? '' + datum.value : ''","gridColor":{"condition":[{"test":"datum.value === 0","value":"#707070"},{"test":"datum.value % 10 === 0","value":"#d6d6d6"}],"value":"#ececec"},"gridWidth":{"condition":{"test":"datum.value === 0","value":1.7},"value":1}}},
     "detail":{"field":"s","type":"nominal"}}},
   {"transform":[{"filter":{"field":"s","equal":"G"}}],"mark":{"type":"line","strokeWidth":8.5,"strokeJoin":"round","strokeCap":"round","color":"#3ade30"},"encoding":{"x":{"field":"t","type":"quantitative"},"y":{"field":"v","type":"quantitative"}}},
   {"transform":[{"filter":{"field":"s","equal":"R"}}],"mark":{"type":"line","strokeWidth":6.5,"strokeJoin":"round","strokeCap":"round","color":"#b8342a"},"encoding":{"x":{"field":"t","type":"quantitative"},"y":{"field":"v","type":"quantitative"}}},
   {"transform":[{"filter":"datum.s === 'R' && datum.t === 0"}],"mark":{"type":"line","strokeCap":"butt"},
    "encoding":{"x":{"field":"t","type":"quantitative"},"y":{"field":"v","type":"quantitative"},
     "color":{"datum":"Test Data","type":"nominal","scale":{"domain":["Test Data","ES2 v8.0","ES2 v9.0"],"range":["#000000","#00b050","#ff0000"]},
      "legend":{"orient":"none","legendX":1836,"legendY":46,"title":"\u2003\u2003\u2003\u2003","titleOrient":"right","titleFontSize":16,"titlePadding":3,"titleColor":"#ffffff","direction":"vertical","symbolType":"stroke","symbolSize":2500,"symbolStrokeWidth":4.5,"symbolDash":[10,3.4],"symbolOpacity":1,"labelFont":"Liberation Sans","labelFontSize":40,"labelFontWeight":"bold","labelLimit":0,"labelOffset":11,"symbolOffset":15,"rowPadding":-6,"padding":17,"strokeColor":"#000000",
       "encode":{"legend":{"update":{"strokeWidth":{"value":4}}},
        "labels":{"update":{"fill":{"signal":"datum.value === 'ES2 v8.0' ? '#00b050' : datum.value === 'ES2 v9.0' ? '#ff0000' : '#000000'"}}}}}}}}
  ]},
 {"width":1,"height":1,"data":{"values":[{}]},"mark":{"type":"point","opacity":0,"size":1},"view":{"stroke":null}},
 {"title":{"text":"T12 x-rotation velo.","offset":8},"width":572,"height":559,"data":{"name":"d3"},
  "layer":[
   {"transform":[{"filter":{"field":"s","oneOf":["a","b","c"]}}],"mark":{"type":"line","strokeWidth":1.7,"strokeJoin":"round","color":"#262626"},
    "encoding":{
     "x":{"field":"t","type":"quantitative","scale":{"domain":[0,100],"nice":false,"zero":false},"axis":{"title":"Time [ms]","grid":true,"values":[0,5,10,15,20,25,30,35,40,45,50,55,60,65,70,75,80,85,90,95,100],"labelExpr":"datum.value === 0 || datum.value === 60 ? '' + datum.value : ''","gridColor":{"condition":{"test":"datum.value % 10 === 0","value":"#d6d6d6"},"value":"#ececec"}}},
     "y":{"field":"v","type":"quantitative","scale":{"domain":[-2000,500],"nice":false,"zero":false},"axis":{"title":"deg/s","grid":true,"titlePadding":20,"values":[-2000,-1875,-1750,-1625,-1500,-1375,-1250,-1125,-1000,-875,-750,-625,-500,-375,-250,-125,0,125,250,375,500],"labelExpr":"datum.value % 500 === 0 ? '' + datum.value : ''","gridColor":{"condition":[{"test":"datum.value === 0","value":"#707070"},{"test":"datum.value % 250 === 0","value":"#d6d6d6"}],"value":"#ececec"},"gridWidth":{"condition":{"test":"datum.value === 0","value":1.7},"value":1}}},
     "detail":{"field":"s","type":"nominal"}}},
   {"transform":[{"filter":{"field":"s","equal":"G"}}],"mark":{"type":"line","strokeWidth":8.5,"strokeJoin":"round","strokeCap":"round","color":"#3ade30"},"encoding":{"x":{"field":"t","type":"quantitative"},"y":{"field":"v","type":"quantitative"}}},
   {"transform":[{"filter":{"field":"s","equal":"R"}}],"mark":{"type":"line","strokeWidth":6.5,"strokeJoin":"round","strokeCap":"round","color":"#b8342a"},"encoding":{"x":{"field":"t","type":"quantitative"},"y":{"field":"v","type":"quantitative"}}}
  ]}
 ]},
{"columns":2,"align":{"row":"all","column":"none"},"spacing":{"row":13,"column":0},
 "concat":[
 {"width":1,"height":1,"data":{"values":[{}]},"mark":{"type":"point","opacity":0,"size":1},"view":{"stroke":null}},
 {"title":{"text":"Pelvis y-accel.","offset":6},"width":626,"height":555,"data":{"name":"d2"},
  "layer":[
   {"transform":[{"filter":{"field":"s","oneOf":["a","b","c"]}}],"mark":{"type":"line","strokeWidth":1.7,"strokeJoin":"round","color":"#262626"},
    "encoding":{
     "x":{"field":"t","type":"quantitative","scale":{"domain":[0,100],"nice":false,"zero":false},"axis":{"title":"Time [ms]","grid":true,"values":[0,5,10,15,20,25,30,35,40,45,50,55,60,65,70,75,80,85,90,95,100],"labelExpr":"datum.value % 40 === 0 && datum.value < 100 ? '' + datum.value : ''","gridColor":{"condition":{"test":"datum.value % 10 === 0","value":"#d6d6d6"},"value":"#ececec"}}},
     "y":{"field":"v","type":"quantitative","scale":{"domain":[-20,70],"nice":false,"zero":false},"axis":{"title":"accle. [g]","grid":true,"titlePadding":12,"values":[-20,-15,-10,-5,0,5,10,15,20,25,30,35,40,45,50,55,60,65,70],"labelExpr":"datum.value % 20 === 0 && datum.value < 70 ? '' + datum.value : ''","gridColor":{"condition":[{"test":"datum.value === 0","value":"#707070"},{"test":"datum.value % 10 === 0","value":"#d6d6d6"}],"value":"#ececec"},"gridWidth":{"condition":{"test":"datum.value === 0","value":1.7},"value":1}}},
     "detail":{"field":"s","type":"nominal"}}},
   {"transform":[{"filter":{"field":"s","equal":"G"}}],"mark":{"type":"line","strokeWidth":8.5,"strokeJoin":"round","strokeCap":"round","color":"#3ade30"},"encoding":{"x":{"field":"t","type":"quantitative"},"y":{"field":"v","type":"quantitative"}}},
   {"transform":[{"filter":{"field":"s","equal":"R"}}],"mark":{"type":"line","strokeWidth":6.5,"strokeJoin":"round","strokeCap":"round","color":"#b8342a"},"encoding":{"x":{"field":"t","type":"quantitative"},"y":{"field":"v","type":"quantitative"}}}
  ]},
 {"width":1,"height":1,"data":{"values":[{}]},"mark":{"type":"point","opacity":0,"size":1},"view":{"stroke":null}},
 {"title":{"text":"Pelvis x-rotation velo.","offset":8},"width":571,"height":559,"data":{"name":"d4"},
  "layer":[
   {"transform":[{"filter":{"field":"s","oneOf":["a","b","c"]}}],"mark":{"type":"line","strokeWidth":1.7,"strokeJoin":"round","color":"#262626"},
    "encoding":{
     "x":{"field":"t","type":"quantitative","scale":{"domain":[0,100],"nice":false,"zero":false},"axis":{"title":"Time [ms]","grid":true,"values":[0,5,10,15,20,25,30,35,40,45,50,55,60,65,70,75,80,85,90,95,100],"labelExpr":"datum.value === 0 || datum.value === 60 ? '' + datum.value : ''","gridColor":{"condition":{"test":"datum.value % 10 === 0","value":"#d6d6d6"},"value":"#ececec"}}},
     "y":{"field":"v","type":"quantitative","scale":{"domain":[-2000,500],"nice":false,"zero":false},"axis":{"title":"deg/s","grid":true,"titlePadding":20,"values":[-2000,-1875,-1750,-1625,-1500,-1375,-1250,-1125,-1000,-875,-750,-625,-500,-375,-250,-125,0,125,250,375,500],"labelExpr":"datum.value % 500 === 0 ? '' + datum.value : ''","gridColor":{"condition":[{"test":"datum.value === 0","value":"#707070"},{"test":"datum.value % 250 === 0","value":"#d6d6d6"}],"value":"#ececec"},"gridWidth":{"condition":{"test":"datum.value === 0","value":1.7},"value":1}}},
     "detail":{"field":"s","type":"nominal"}}},
   {"transform":[{"filter":{"field":"s","equal":"G"}}],"mark":{"type":"line","strokeWidth":8.5,"strokeJoin":"round","strokeCap":"round","color":"#3ade30"},"encoding":{"x":{"field":"t","type":"quantitative"},"y":{"field":"v","type":"quantitative"}}},
   {"transform":[{"filter":{"field":"s","equal":"R"}}],"mark":{"type":"line","strokeWidth":6.5,"strokeJoin":"round","strokeCap":"round","color":"#b8342a"},"encoding":{"x":{"field":"t","type":"quantitative"},"y":{"field":"v","type":"quantitative"}}}
  ]}
 ]}
]
}
